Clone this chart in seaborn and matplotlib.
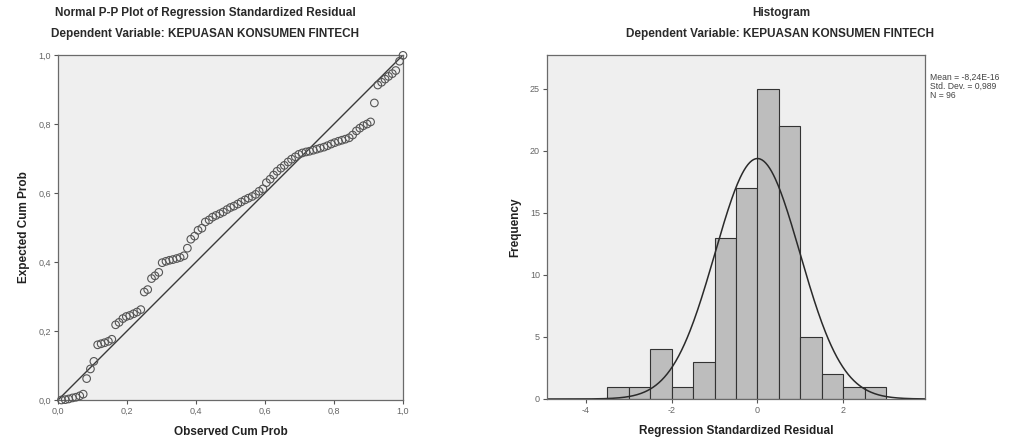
import numpy as np
import pandas as pd
import matplotlib
matplotlib.use("Agg")
import matplotlib.pyplot as plt
import seaborn as sns

# ---------------- data ----------------
# Normal P-P plot: observed vs expected cumulative probability
observed_cum = [0.010, 0.021, 0.031, 0.042, 0.052, 0.063, 0.073, 0.083, 0.094, 0.104,
                0.115, 0.125, 0.135, 0.146, 0.156, 0.167, 0.177, 0.188, 0.198, 0.208,
                0.219, 0.229, 0.240, 0.250, 0.260, 0.271, 0.281, 0.292, 0.302, 0.313,
                0.323, 0.333, 0.344, 0.354, 0.365, 0.375, 0.385, 0.396, 0.406, 0.417,
                0.427, 0.438, 0.448, 0.458, 0.469, 0.479, 0.490, 0.500, 0.510, 0.521,
                0.531, 0.542, 0.552, 0.563, 0.573, 0.583, 0.594, 0.604, 0.615, 0.625,
                0.635, 0.646, 0.656, 0.667, 0.677, 0.688, 0.698, 0.708, 0.719, 0.729,
                0.740, 0.750, 0.760, 0.771, 0.781, 0.792, 0.802, 0.813, 0.823, 0.833,
                0.844, 0.854, 0.865, 0.875, 0.885, 0.896, 0.906, 0.917, 0.927, 0.938,
                0.948, 0.958, 0.969, 0.979, 0.990, 1.000]
expected_cum = [0.000, 0.001, 0.003, 0.006, 0.008, 0.012, 0.017, 0.062, 0.090, 0.112,
                0.160, 0.163, 0.166, 0.170, 0.176, 0.218, 0.225, 0.236, 0.242, 0.245,
                0.250, 0.255, 0.262, 0.313, 0.320, 0.352, 0.360, 0.370, 0.398, 0.402,
                0.405, 0.407, 0.410, 0.413, 0.418, 0.440, 0.466, 0.475, 0.492, 0.498,
                0.516, 0.522, 0.530, 0.535, 0.540, 0.545, 0.552, 0.558, 0.562, 0.568,
                0.574, 0.580, 0.585, 0.590, 0.596, 0.605, 0.612, 0.630, 0.640, 0.652,
                0.663, 0.672, 0.680, 0.690, 0.698, 0.705, 0.712, 0.716, 0.719, 0.721,
                0.724, 0.727, 0.730, 0.733, 0.737, 0.742, 0.746, 0.750, 0.753, 0.756,
                0.760, 0.768, 0.780, 0.788, 0.795, 0.800, 0.806, 0.861, 0.913, 0.921,
                0.930, 0.938, 0.946, 0.955, 0.982, 0.999]

# Histogram of regression standardized residual
bin_edges = [-3.5, -3.0, -2.5, -2.0, -1.5, -1.0, -0.5, 0.0, 0.5, 1.0, 1.5, 2.0, 2.5, 3.0]
bin_counts = [1, 1, 4, 1, 3, 13, 17, 25, 22, 5, 2, 1, 1]
res_mean = -8.24e-16
res_std = 0.989
res_n = 96

pp_ticks = [0.0, 0.2, 0.4, 0.6, 0.8, 1.0]
pp_ticklabels = ["0,0", "0,2", "0,4", "0,6", "0,8", "1,0"]
hist_xticks = [-4, -2, 0, 2]
hist_yticks = [0, 5, 10, 15, 20, 25]

# ---------------- style ----------------
sns.set_theme(style="ticks")
plt.rcParams["font.family"] = ["Liberation Sans", "DejaVu Sans"]
plt.rcParams["axes.unicode_minus"] = False

panel_bg = "#efefef"
dark = "#3a3a3a"
tick_col = "#666666"

fig = plt.figure(figsize=(10.10, 4.43), dpi=100)
fig.patch.set_facecolor("white")

ax1 = fig.add_axes([58 / 1010, 43 / 443, 345 / 1010, 345 / 443])
ax2 = fig.add_axes([547 / 1010, 44 / 443, 378 / 1010, 344 / 443])

for ax in (ax1, ax2):
    ax.set_facecolor(panel_bg)
    for s in ax.spines.values():
        s.set_color("#6a6a6a")
        s.set_linewidth(0.9)
    ax.tick_params(axis="both", direction="out", length=3, width=0.8, pad=2,
                   colors="#555555", labelsize=6.5, labelcolor=tick_col)

# ---------------- P-P plot ----------------
pp_df = pd.DataFrame({"observed": observed_cum, "expected": expected_cum})
diag_df = pd.DataFrame({"x": [0.0, 1.0], "y": [0.0, 1.0]})
sns.lineplot(data=diag_df, x="x", y="y", ax=ax1, color=dark, linewidth=1.0)
sns.scatterplot(data=pp_df, x="observed", y="expected", ax=ax1, marker="o",
                s=30, facecolor="none", edgecolor="#555555", linewidth=0.8,
                clip_on=False, zorder=3)
ax1.set_xlim(0, 1)
ax1.set_ylim(0, 1)
ax1.set_xticks(pp_ticks)
ax1.set_xticklabels(pp_ticklabels)
ax1.set_yticks(pp_ticks)
ax1.set_yticklabels(pp_ticklabels)
ax1.set_xlabel("Observed Cum Prob", fontsize=8.5, fontweight="bold", color="#222222", labelpad=7)
ax1.set_ylabel("Expected Cum Prob", fontsize=8.5, fontweight="bold", color="#222222", labelpad=6)

# ---------------- Histogram ----------------
centers = [(bin_edges[i] + bin_edges[i + 1]) / 2 for i in range(len(bin_counts))]
hist_df = pd.DataFrame({"residual": centers, "count": bin_counts})
sns.histplot(data=hist_df, x="residual", weights="count", bins=bin_edges, ax=ax2,
             stat="count", color="#bdbdbd", alpha=1.0, edgecolor="#333333", linewidth=0.8)
bw = bin_edges[1] - bin_edges[0]
xs = np.linspace(-4.9, 3.9, 400)
curve = res_n * bw / (res_std * np.sqrt(2 * np.pi)) * np.exp(-0.5 * ((xs - res_mean) / res_std) ** 2)
curve_df = pd.DataFrame({"x": xs, "y": curve})
sns.lineplot(data=curve_df, x="x", y="y", ax=ax2, color="#2a2a2a", linewidth=1.1)
ax2.set_xlim(-4.9, 3.9)
ax2.set_ylim(0, 27.7)
ax2.set_xticks(hist_xticks)
ax2.set_yticks(hist_yticks)
ax2.set_xlabel("Regression Standardized Residual", fontsize=8.5, fontweight="bold",
               color="#222222", labelpad=7)
ax2.set_ylabel("Frequency", fontsize=8.5, fontweight="bold", color="#222222", labelpad=6)

mean_txt = "Mean = -8,24E-16"
std_txt = "Std. Dev. = 0,989"
n_txt = "N = 96"
fig.text(930 / 1010, 1 - 73 / 443, mean_txt + "\n" + std_txt + "\n" + n_txt,
         fontsize=6.2, color="#444444", va="top", ha="left", linespacing=1.0)

# ---------------- titles ----------------
tcol = "#2a2a2a"
fig.text(205 / 1010, 1 - 13 / 443, "Normal P-P Plot of Regression Standardized Residual",
         ha="center", va="center", fontsize=8.5, fontweight="bold", color=tcol)
fig.text(205 / 1010, 1 - 34 / 443, "Dependent Variable: KEPUASAN KONSUMEN FINTECH",
         ha="center", va="center", fontsize=8.5, fontweight="bold", color=tcol)
fig.text(781 / 1010, 1 - 13 / 443, "Histogram",
         ha="center", va="center", fontsize=8.5, fontweight="bold", color=tcol)
fig.text(780 / 1010, 1 - 34 / 443, "Dependent Variable: KEPUASAN KONSUMEN FINTECH",
         ha="center", va="center", fontsize=8.5, fontweight="bold", color=tcol)

fig.savefig("out.png", dpi=100, facecolor="white")
